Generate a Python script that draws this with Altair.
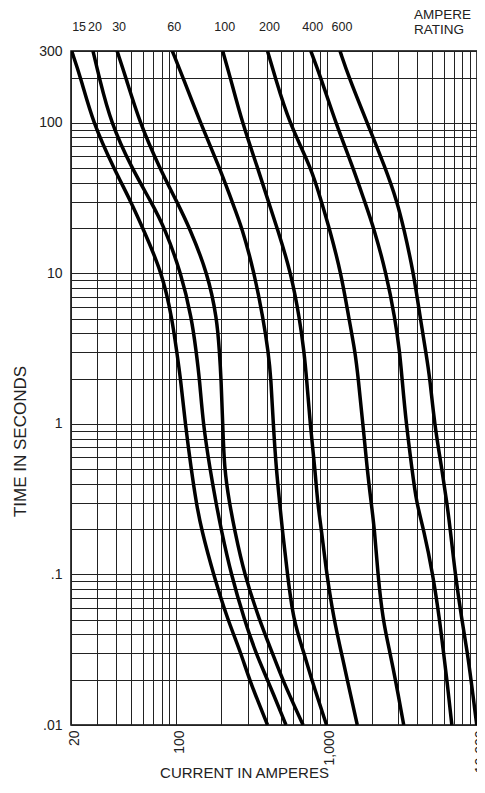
import altair as alt
import pandas as pd

# ---------------- data ----------------
ratings = ["15", "20", "30", "60", "100", "200", "400", "600"]
times = [300, 200, 100, 50, 30, 20, 10, 5, 3, 2, 1, 0.5, 0.3, 0.2, 0.1, 0.05, 0.03, 0.02, 0.01]

amp_15 = [20.2, 23.2, 28.0, 38.5, 50, 60, 81, 94, 101, 107, 115, 126, 136, 147, 177, 220, 270, 306, 405]
amp_20 = [28.0, 30.8, 36.8, 50.7, 68, 84, 108, 127, 136, 143, 151, 168, 184, 199, 232, 284, 339, 405, 537]
amp_30 = [40.5, 46.3, 57.3, 77.7, 101, 123, 162, 187, 194, 199, 204, 209, 226, 244, 284, 357, 437, 509, 698]
amp_60 = [94.3, 111, 145, 195, 235, 275, 331, 379, 410, 427, 442, 463, 488, 507, 550, 600, 709, 795, 1000]
amp_100 = [204, 229, 275, 349, 410, 470, 581, 662, 709, 737, 777, 838, 871, 923, 1002, 1120, 1257, 1372, 1600]
amp_200 = [405, 456, 564, 793, 923, 1043, 1250, 1408, 1550, 1624, 1743, 1862, 1979, 2083, 2192, 2365, 2644, 2871, 3258]
amp_400 = [785, 915, 1150, 1504, 1790, 2062, 2494, 2853, 3064, 3174, 3385, 3698, 3954, 4420, 5094, 5640, 5996, 6306, 6804]
amp_600 = [1228, 1408, 1862, 2464, 2942, 3258, 3794, 4202, 4571, 4866, 5212, 5843, 6306, 6640, 7168, 7926, 8645, 9120, 9964]

curves = [amp_15, amp_20, amp_30, amp_60, amp_100, amp_200, amp_400, amp_600]

x_grid = [20, 30, 40, 50, 60, 70, 80, 90,
          100, 200, 300, 400, 500, 600, 700, 800, 900,
          1000, 2000, 3000, 4000, 5000, 6000, 7000, 8000, 9000, 10000]
x_label_vals = [20, 100, 1000, 10000]

y_grid = [0.01, 0.02, 0.03, 0.04, 0.05, 0.06, 0.07, 0.08, 0.09,
          0.1, 0.2, 0.3, 0.4, 0.5, 0.6, 0.7, 0.8, 0.9,
          1, 2, 3, 4, 5, 6, 7, 8, 9,
          10, 20, 30, 40, 50, 60, 70, 80, 90,
          100, 200, 300]
y_label_vals = [300, 100, 10, 1, 0.1, 0.01]
y_label_text = ["300", "100", "10", "1", ".1", ".01"]

# ---------------- tables ----------------
rows = []
for r, amps in zip(ratings, curves):
    for i, (t, a) in enumerate(zip(times, amps)):
        rows.append({"rating": r, "order": i, "time": t, "current": a})
df = pd.DataFrame(rows)

label_df = pd.DataFrame({"rating": ratings, "current": [c[0] for c in curves]})

FONT = "Liberation Sans"
TXT = "#222222"

xscale = alt.Scale(type="log", domain=[20, 10000], nice=False)
yscale = alt.Scale(type="log", domain=[0.01, 300], nice=False)

x_expr = "indexof([" + ",".join(str(v) for v in x_label_vals) + "], datum.value) >= 0 ? format(datum.value, ',') : ''"
y_expr = ""
for v, s in zip(y_label_vals, y_label_text):
    y_expr += f"abs(datum.value - {v}) < {v}*1e-6 ? '{s}' : "
y_expr += "''"

xaxis = alt.Axis(
    values=x_grid, labelExpr=x_expr, labelAngle=270, labelAlign="right",
    labelBaseline="middle", labelPadding=5, labelOffset=3, labelFontSize=14,
    labelFont=FONT, labelColor=TXT, labelOverlap=False, labelFlush=False,
    ticks=False, domain=False, grid=True, gridColor="#222222", gridWidth=1,
    gridOpacity=1, title="CURRENT IN AMPERES", titleFont=FONT, titleFontSize=15,
    titleFontWeight="normal", titleColor=TXT, titleX=173, titleY=52,
    titleAlign="center", titleBaseline="alphabetic", titleAngle=0,
)
yaxis = alt.Axis(
    values=y_grid, labelExpr=y_expr, labelAlign="right", labelBaseline="middle",
    labelPadding=9, labelFontSize=14, labelFont=FONT, labelColor=TXT,
    labelOverlap=False, labelFlush=False, ticks=False, domain=False, grid=True,
    gridColor="#222222", gridWidth=1, gridOpacity=1, title="TIME IN SECONDS",
    titleFont=FONT, titleFontSize=17, titleFontWeight="normal", titleColor=TXT,
    titleAngle=270, titleX=-46, titleY=390, titleAlign="center",
    titleBaseline="alphabetic",
)

lines = alt.Chart(df).mark_line(
    color="black", strokeWidth=3.5, interpolate="basis", clip=True
).encode(
    x=alt.X("current:Q", scale=xscale, axis=xaxis),
    y=alt.Y("time:Q", scale=yscale, axis=yaxis),
    detail="rating:N",
    order="order:Q",
)

lab_first = alt.Chart(label_df.iloc[:1]).mark_text(
    font=FONT, fontSize=12.5, color=TXT, baseline="alphabetic", align="left", dx=0.5
).encode(
    x=alt.X("current:Q", scale=xscale),
    y=alt.value(-20),
    text="rating:N",
)
lab_rest = alt.Chart(label_df.iloc[1:]).mark_text(
    font=FONT, fontSize=12.5, color=TXT, baseline="alphabetic", align="center", dx=2
).encode(
    x=alt.X("current:Q", scale=xscale),
    y=alt.value(-20),
    text="rating:N",
)

header = alt.Chart(pd.DataFrame({"k": [0]})).mark_text(
    text=["AMPERE", "RATING"], font=FONT, fontSize=13.5, color=TXT,
    align="left", baseline="alphabetic", lineHeight=15,
).encode(x=alt.value(343), y=alt.value(-32))

chart = alt.layer(lines, lab_first, lab_rest, header).properties(
    width=406,
    height=674,
    autosize=alt.AutoSizeParams(type="none"),
    padding={"left": 63, "top": 43, "right": 0, "bottom": 56},
    background="white",
).configure_view(stroke="black", strokeWidth=1.5)

chart.save("out.html", embed_options={"renderer": "svg", "actions": False})
